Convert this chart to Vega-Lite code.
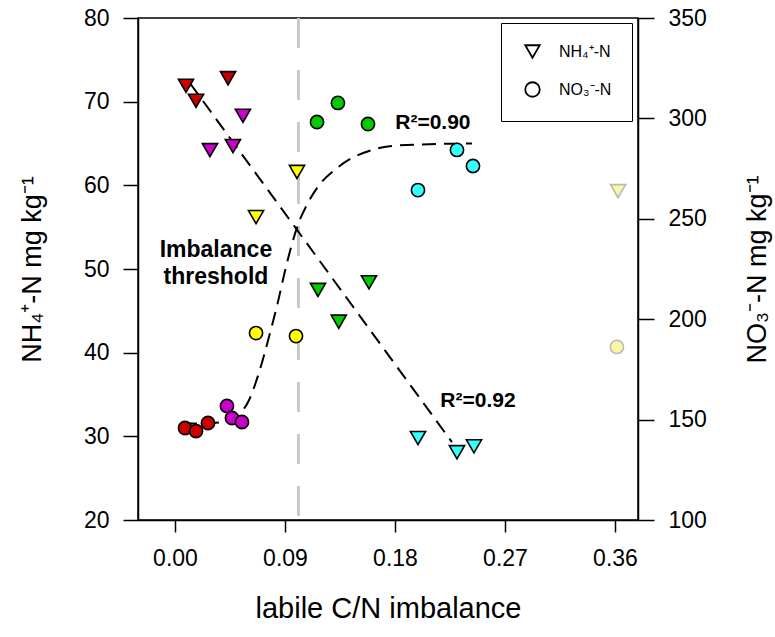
{
  "$schema": "https://vega.github.io/schema/vega-lite/v6.json",
  "width": 500,
  "height": 502,
  "autosize": {"type": "none"},
  "padding": {"left": 138, "top": 18, "right": 137, "bottom": 117},
  "background": "white",
  "datasets": {
    "pts": [
      {"x": 0.009, "v": 71.9, "species": "NH₄⁺-N", "grp": "r"},
      {"x": 0.0172, "v": 70.1, "species": "NH₄⁺-N", "grp": "r"},
      {"x": 0.0434, "v": 72.8, "species": "NH₄⁺-N", "grp": "r"},
      {"x": 0.0556, "v": 68.3, "species": "NH₄⁺-N", "grp": "m"},
      {"x": 0.0286, "v": 64.2, "species": "NH₄⁺-N", "grp": "m"},
      {"x": 0.0474, "v": 64.7, "species": "NH₄⁺-N", "grp": "m"},
      {"x": 0.0998, "v": 61.6, "species": "NH₄⁺-N", "grp": "y"},
      {"x": 0.0663, "v": 56.2, "species": "NH₄⁺-N", "grp": "y"},
      {"x": 0.117, "v": 47.5, "species": "NH₄⁺-N", "grp": "g"},
      {"x": 0.1587, "v": 48.4, "species": "NH₄⁺-N", "grp": "g"},
      {"x": 0.134, "v": 43.7, "species": "NH₄⁺-N", "grp": "g"},
      {"x": 0.1988, "v": 29.8, "species": "NH₄⁺-N", "grp": "c"},
      {"x": 0.2307, "v": 28.1, "species": "NH₄⁺-N", "grp": "c"},
      {"x": 0.2446, "v": 28.8, "species": "NH₄⁺-N", "grp": "c"},
      {"x": 0.3625, "v": 59.3, "species": "NH₄⁺-N", "grp": "o"},
      {"x": 0.0082, "v": 145.8, "species": "NO₃⁻-N", "grp": "r"},
      {"x": 0.0172, "v": 144.3, "species": "NO₃⁻-N", "grp": "r"},
      {"x": 0.027, "v": 148.3, "species": "NO₃⁻-N", "grp": "r"},
      {"x": 0.0425, "v": 156.8, "species": "NO₃⁻-N", "grp": "m"},
      {"x": 0.0466, "v": 150.8, "species": "NO₃⁻-N", "grp": "m"},
      {"x": 0.0548, "v": 148.8, "species": "NO₃⁻-N", "grp": "m"},
      {"x": 0.0663, "v": 193.1, "species": "NO₃⁻-N", "grp": "y"},
      {"x": 0.099, "v": 191.6, "species": "NO₃⁻-N", "grp": "y"},
      {"x": 0.1162, "v": 298.2, "species": "NO₃⁻-N", "grp": "g"},
      {"x": 0.1333, "v": 307.7, "species": "NO₃⁻-N", "grp": "g"},
      {"x": 0.1579, "v": 297.2, "species": "NO₃⁻-N", "grp": "g"},
      {"x": 0.2307, "v": 284.3, "species": "NO₃⁻-N", "grp": "c"},
      {"x": 0.2438, "v": 276.3, "species": "NO₃⁻-N", "grp": "c"},
      {"x": 0.1988, "v": 264.3, "species": "NO₃⁻-N", "grp": "c"},
      {"x": 0.3616, "v": 186.2, "species": "NO₃⁻-N", "grp": "o"}
    ],
    "fits": [
      {"x": 0.0123, "v": 72.2, "fit": "lin"},
      {"x": 0.2266, "v": 29.3, "fit": "lin"},
      {"x": 0.0065, "v": 148.0, "fit": "sig"},
      {"x": 0.03, "v": 148.3, "fit": "sig"},
      {"x": 0.045, "v": 149.5, "fit": "sig"},
      {"x": 0.054, "v": 153.5, "fit": "sig"},
      {"x": 0.06, "v": 159.0, "fit": "sig"},
      {"x": 0.068, "v": 172.0, "fit": "sig"},
      {"x": 0.0777, "v": 193.0, "fit": "sig"},
      {"x": 0.084, "v": 208.0, "fit": "sig"},
      {"x": 0.09, "v": 224.0, "fit": "sig"},
      {"x": 0.0955, "v": 237.0, "fit": "sig"},
      {"x": 0.1006, "v": 247.0, "fit": "sig"},
      {"x": 0.108, "v": 257.0, "fit": "sig"},
      {"x": 0.117, "v": 266.0, "fit": "sig"},
      {"x": 0.131, "v": 274.5, "fit": "sig"},
      {"x": 0.144, "v": 280.0, "fit": "sig"},
      {"x": 0.16, "v": 284.0, "fit": "sig"},
      {"x": 0.174, "v": 286.0, "fit": "sig"},
      {"x": 0.2, "v": 287.0, "fit": "sig"},
      {"x": 0.243, "v": 287.5, "fit": "sig"}
    ],
    "threshold": [{"x": 0.101}],
    "notes": [
      {"x": 0.0335, "v": 52.3, "label": "Imbalance", "side": "left", "size": "big"},
      {"x": 0.0335, "v": 49.0, "label": "threshold", "side": "left", "size": "big"},
      {"x": 0.2479, "v": 34.2, "label": "R²=0.92", "side": "left", "size": "small"},
      {"x": 0.211, "v": 297.7, "label": "R²=0.90", "side": "right", "size": "small"}
    ]
  },
  "layer": [
    {
      "layer": [
        {
          "data": {"name": "threshold"},
          "mark": {"type": "rule", "color": "#c8c8c8", "strokeWidth": 3, "strokeDash": [30, 22]},
          "encoding": {
            "x": {"field": "x", "type": "quantitative", "scale": {"domain": [-0.03027, 0.37882], "nice": false, "zero": false}}
          }
        },
        {
          "data": {"name": "fits"},
          "transform": [{"filter": "datum.fit === 'lin'"}],
          "mark": {"type": "line", "color": "black", "strokeWidth": 2, "strokeDash": [14, 8]},
          "encoding": {
            "x": {"field": "x", "type": "quantitative"},
            "y": {"field": "v", "type": "quantitative", "scale": {"domain": [20, 80], "nice": false, "zero": false}}
          }
        },
        {
          "data": {"name": "pts"},
          "transform": [{"filter": "datum.species === 'NH₄⁺-N'"}],
          "mark": {"type": "point", "filled": true, "strokeWidth": 1.6, "size": 230, "opacity": 1},
          "encoding": {
            "x": {"field": "x", "type": "quantitative"},
            "y": {"field": "v", "type": "quantitative"},
            "shape": {
              "field": "species",
              "type": "nominal",
              "scale": {"domain": ["NH₄⁺-N", "NO₃⁻-N"], "range": ["triangle-down", "circle"]},
              "legend": {
                "orient": "none",
                "legendX": 363,
                "legendY": 5,
                "title": null,
                "strokeColor": "black",
                "padding": 20,
                "labelFontSize": 16,
                "labelFont": "Liberation Sans",
                "labelColor": "black",
                "labelOffset": 18,
                "symbolSize": 210,
                "symbolStrokeWidth": 1.8,
                "symbolFillColor": "white",
                "symbolStrokeColor": "black",
                "symbolOffset": 3,
                "rowPadding": 16,
                "encode": {
                  "symbols": {
                    "update": {"fill": {"value": "white"}, "stroke": {"value": "black"}, "opacity": {"value": 1}}
                  },
                  "legend": {"update": {"strokeWidth": {"value": 2}}}
                }
              }
            },
            "fill": {"field": "grp", "type": "nominal", "legend": null},
            "stroke": {"field": "grp", "type": "nominal", "legend": null}
          }
        },
        {
          "data": {"name": "notes"},
          "transform": [{"filter": "datum.side === 'left'"}],
          "mark": {"type": "text", "fontWeight": "bold", "font": "Liberation Sans", "color": "black", "baseline": "middle", "align": "center"},
          "encoding": {
            "x": {"field": "x", "type": "quantitative"},
            "y": {"field": "v", "type": "quantitative"},
            "text": {"field": "label"},
            "size": {"field": "size", "type": "nominal", "scale": {"domain": ["big", "small"], "range": [23, 21]}, "legend": null}
          }
        }
      ],
      "encoding": {
        "y": {
          "axis": {
            "orient": "left",
            "values": [20, 30, 40, 50, 60, 70, 80],
            "tickSize": 15,
            "labelPadding": 14,
            "labelFlush": false,
            "title": "NH₄⁺-N mg kg⁻¹",
            "titleX": -106,
            "titleAngle": -90,
            "titleBaseline": "middle",
            "titleFontSize": 27
          }
        },
        "x": {
          "axis": {
            "values": [0, 0.09, 0.18, 0.27, 0.36],
            "format": ".2f",
            "tickSize": 12,
            "labelPadding": 15,
            "labelFlush": false,
            "title": "labile C/N imbalance",
            "titleY": 88,
            "titleBaseline": "middle",
            "titleFontSize": 29
          }
        }
      }
    },
    {
      "layer": [
        {
          "data": {"name": "fits"},
          "transform": [{"filter": "datum.fit === 'sig'"}],
          "mark": {"type": "line", "color": "black", "strokeWidth": 2, "strokeDash": [14, 8], "interpolate": "monotone"},
          "encoding": {
            "x": {"field": "x", "type": "quantitative"},
            "y": {"field": "v", "type": "quantitative", "scale": {"domain": [100, 350], "nice": false, "zero": false}}
          }
        },
        {
          "data": {"name": "pts"},
          "transform": [{"filter": "datum.species === 'NO₃⁻-N'"}],
          "mark": {"type": "point", "filled": true, "strokeWidth": 1.6, "size": 175, "opacity": 1},
          "encoding": {
            "x": {"field": "x", "type": "quantitative"},
            "y": {"field": "v", "type": "quantitative"},
            "shape": {
              "field": "species",
              "type": "nominal",
              "legend": {
                "orient": "none",
                "legendX": 363,
                "legendY": 5,
                "title": null,
                "strokeColor": "black",
                "padding": 20,
                "labelFontSize": 16,
                "labelFont": "Liberation Sans",
                "labelColor": "black",
                "labelOffset": 18,
                "symbolSize": 210,
                "symbolStrokeWidth": 1.8,
                "symbolFillColor": "white",
                "symbolStrokeColor": "black",
                "symbolOffset": 3,
                "rowPadding": 16,
                "encode": {
                  "symbols": {
                    "update": {"fill": {"value": "white"}, "stroke": {"value": "black"}, "opacity": {"value": 1}}
                  },
                  "legend": {"update": {"strokeWidth": {"value": 2}}}
                }
              }
            },
            "fill": {
              "field": "grp",
              "type": "nominal",
              "legend": null,
              "scale": {"domain": ["r", "m", "y", "g", "c", "o"], "range": ["#cc0000", "#cc00cc", "#ffff00", "#00cc00", "#33ffff", "#f9f7a6"]}
            },
            "stroke": {
              "field": "grp",
              "type": "nominal",
              "legend": null,
              "scale": {"domain": ["r", "m", "y", "g", "c", "o"], "range": ["black", "black", "black", "black", "black", "#b9b9b9"]}
            }
          }
        },
        {
          "data": {"name": "notes"},
          "transform": [{"filter": "datum.side === 'right'"}],
          "mark": {"type": "text", "fontWeight": "bold", "font": "Liberation Sans", "color": "black", "baseline": "middle", "align": "center", "fontSize": 21},
          "encoding": {
            "x": {"field": "x", "type": "quantitative"},
            "y": {"field": "v", "type": "quantitative"},
            "text": {"field": "label"}
          }
        }
      ],
      "encoding": {
        "y": {
          "axis": {
            "orient": "right",
            "values": [100, 150, 200, 250, 300, 350],
            "tickSize": 16,
            "labelPadding": 14,
            "labelFlush": false,
            "title": "NO₃⁻-N mg kg⁻¹",
            "titleX": 119,
            "titleAngle": 270,
            "titleBaseline": "middle",
            "titleFontSize": 27
          }
        }
      }
    }
  ],
  "resolve": {"scale": {"y": "independent"}},
  "config": {
    "view": {"stroke": "black", "strokeWidth": 1.5},
    "legend": {"symbolFillColor": "white", "symbolStrokeColor": "black"},
    "axis": {
      "grid": false,
      "domainColor": "black",
      "domainWidth": 1.5,
      "tickColor": "black",
      "tickWidth": 1.5,
      "labelFont": "Liberation Sans",
      "labelFontSize": 23,
      "labelColor": "black",
      "titleFont": "Liberation Sans",
      "titleFontWeight": "normal",
      "titleColor": "black"
    },
    "text": {"font": "Liberation Sans"}
  }
}
